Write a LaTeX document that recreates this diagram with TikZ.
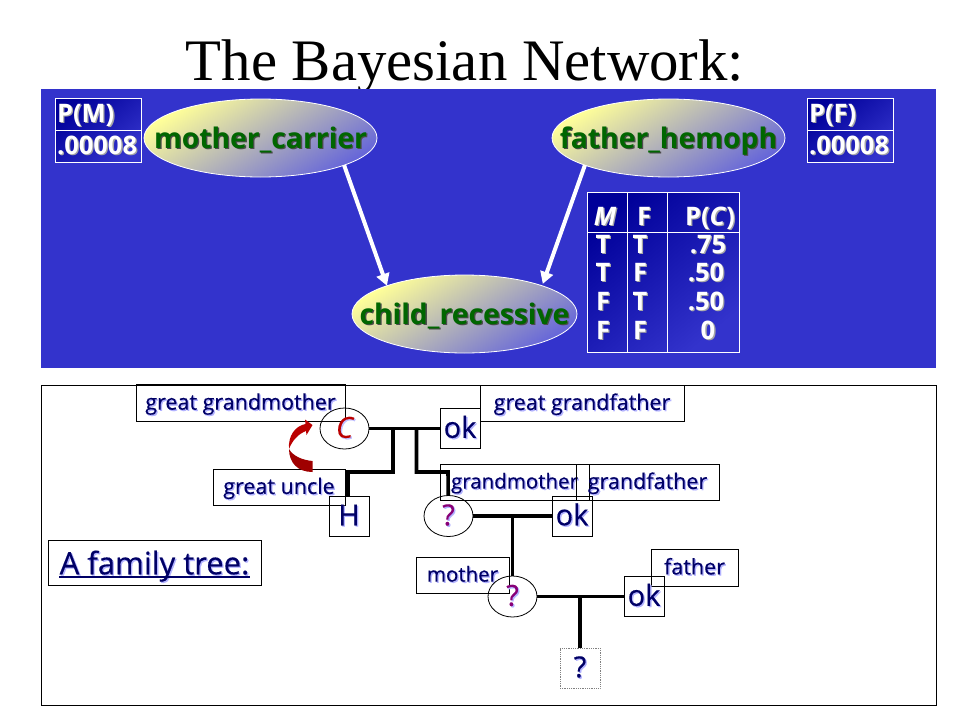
\documentclass[tikz,border=0pt]{standalone}
\usepackage{fontspec}
\setmainfont{Liberation Serif}
\newfontfamily\cs{Open Sans}
\newfontfamily\csm[FakeBold=0.35]{Open Sans}
\usetikzlibrary{shapes.geometric,arrows.meta}
\definecolor{panel}{HTML}{3333CC}
\definecolor{deep}{HTML}{000099}
\definecolor{navy}{HTML}{000066}
\definecolor{leaf}{HTML}{006600}
\definecolor{plum}{HTML}{880077}
\definecolor{crimson}{HTML}{BB0000}
\newcommand\shd[3][-0.32em]{\makebox[0pt][c]{\raisebox{#1}[0pt][0pt]{\rlap{\kern1.3pt\raisebox{-1.3pt}{\textcolor{#2}{#3}}}#3}}}
\newcommand\fs[1]{\fontsize{#1}{#1}\selectfont}
\tikzset{
 bn/.style={ellipse,inner sep=0pt,outer sep=0pt,minimum width=233,minimum height=78,draw=white,line width=0.8pt,
   top color=yellow!40!white,bottom color=panel!75!white,shading angle=32,text=leaf,font=\cs\bfseries\fs{28.3}},
 wt/.style={text=white,font=\cs\bfseries\fs{25.5},inner sep=0pt,outer sep=0pt},
 grid/.style={draw=white,line width=0.8pt},
 lab/.style={draw=black,line width=0.8pt,inner sep=0pt,outer sep=0pt,anchor=north west,text=navy,font=\csm\fs{21.5}},
 pers/.style={draw=black,line width=0.8pt,inner sep=0pt,outer sep=0pt,minimum width=40,minimum height=40,text=navy,font=\csm\fs{29}},
 fem/.style={pers,ellipse,minimum width=49,minimum height=41,text=plum},
 link/.style={draw=black,line width=3.6pt},
 dep/.style={draw=white,line width=4pt,-{Triangle[length=12pt,width=13pt]}}
}
\newcommand\wtx[1]{\shd[-0.33em]{gray!70}{#1}}
\newcommand\wtl[1]{\rlap{\raisebox{-0.33em}[0pt][0pt]{\rlap{\kern1.3pt\raisebox{-1.3pt}{\textcolor{gray!70}{#1}}}#1}}}
\newcommand\lbx[1]{\shd{blue!30}{#1}}
\newcommand\grn[1]{\shd[-0.37em]{black!70}{#1}}
\begin{document}
\begin{tikzpicture}[x=1pt,y=-1pt]
\useasboundingbox (0,0) rectangle (960,720);
\fill[white] (0,0) rectangle (960,720);
\node[font=\fs{58.8},inner sep=0pt,anchor=base] (title) at (465,80) {The Bayesian Network:};
\fill[panel] (41,89) rectangle (936,368);
% probability tables
\shade[top color=deep,bottom color=panel,shading angle=40] (55,98) rectangle (141,162);
\draw[grid] (55,98) rectangle (141,162) (55,130) -- (141,130);
\shade[top color=deep,bottom color=panel,shading angle=40] (807,98) rectangle (893,162);
\draw[grid] (807,98) rectangle (893,162) (807,130) -- (893,130);
\shade[top color=deep,bottom color=panel,shading angle=40] (587,192) rectangle (739,352);
\draw[grid] (587,192) rectangle (739,352) (587,232) -- (739,232) (627,192) -- (627,352) (667,192) -- (667,352);
\node[wt] (pm) at (57,114) {\wtl{P(M)}};
\node[wt] (pmv) at (57,146) {\wtl{.00008}};
\node[wt] (pf) at (809,114) {\wtl{P(F)}};
\node[wt] (pfv) at (809,146) {\wtl{.00008}};
\node[wt] (hm) at (605,217) {\wtx{\itshape M}};
\node[wt] (hf) at (644,217) {\wtx{F}};
\node[wt] (hc) at (710,217) {\wtx{P(\textit{C})}};
\node[wt] (a1) at (603,245) {\wtx{T}};
\node[wt] (b1) at (640,245) {\wtx{T}};
\node[wt] (c1) at (708,245) {\wtx{.75}};
\node[wt] (a2) at (603,273) {\wtx{T}};
\node[wt] (b2) at (640,273) {\wtx{F}};
\node[wt] (c2) at (706,273) {\wtx{.50}};
\node[wt] (a3) at (603,302) {\wtx{F}};
\node[wt] (b3) at (640,302) {\wtx{T}};
\node[wt] (c3) at (706,302) {\wtx{.50}};
\node[wt] (a4) at (603,331) {\wtx{F}};
\node[wt] (b4) at (640,331) {\wtx{F}};
\node[wt] (c4) at (708,331) {\wtx{0}};
% network
\node[bn] (mc) at (260.5,138) {\grn{mother\_carrier}};
\node[bn] (fh) at (668.5,138) {\grn{father\_hemoph}};
\node[bn,minimum width=225] (cr) at (464.5,314) {\grn{child\_recessive}};
\draw[dep] (mc.-18) -- (cr.160);
\draw[dep,shorten >=2pt] (fh.198) -- (cr.20);
% family tree panel
\draw[black,line width=0.8pt] (41,385) rectangle (936,705);
\node[lab,minimum width=209,minimum height=36.5] (ggm) at (136,384.5) {\lbx{great grandmother}};
\node[lab,minimum width=204,minimum height=36] (ggf) at (480,385) {\lbx{great grandfather}};
\node[lab,minimum width=132,minimum height=36] (gu) at (213,469) {\lbx{great uncle}};
\node[lab,minimum width=149,minimum height=36,font=\csm\fs{20.5}] (gm) at (440,464) {\lbx{grandmother}};
\node[lab,minimum width=143,minimum height=36] (gf) at (576,464) {\lbx{grandfather}};
\node[lab,minimum width=93,minimum height=36,font=\csm\fs{20.5}] (mo) at (416,557) {\lbx{mother}};
\node[lab,minimum width=87,minimum height=37] (fa) at (651,549) {\lbx{father}};
\node[lab,minimum width=213,minimum height=45,font=\csm\fs{31}] (ft) at (48,540) {\shd[-0.38em]{blue!30}{A family tree:}};
\draw[navy,line width=1.8pt] (59,577) -- (250,577);
\node[fem,text=crimson] (c) at (344.5,428.5) {\shd{blue!25}{\itshape C}};
\node[pers] (ok1) at (460,428.5) {\lbx{ok}};
\node[pers] (h) at (349,516) {\lbx{H}};
\node[fem] (q1) at (448.5,516) {\lbx{?}};
\node[pers] (ok2) at (572,516) {\lbx{ok}};
\node[fem] (q2) at (512.5,596.5) {\lbx{?}};
\node[pers] (ok3) at (644,596.5) {\lbx{ok}};
\node[pers,draw=gray,densely dotted] (q3) at (580,668) {\lbx{?}};
\coordinate (j1) at (393,428.5);
\coordinate (j2) at (416.5,428.5);
\coordinate (j3) at (512.5,516);
\coordinate (j4) at (580,596.5);
\coordinate (k1) at (348,472);
\coordinate (k2) at (448,472);
\draw[link] (c) -- (ok1);
\draw[link] (j1) |- (k1) -- (k1 |- h.north);
\draw[link] (j2) |- (k2) -- (q1);
\draw[link] (q1) -- (ok2);
\draw[link] (j3) -- (q2);
\draw[link] (q2) -- (ok3);
\draw[link] (j4) -- (q3);
% red curved arrow
\fill[crimson] (312.5,425) -- (305,419.5) -- (305.5,424) .. controls (295,426) and (288,436) .. (289,449)
  .. controls (292,441) and (298,434) .. (306,431) -- (306.5,435) -- cycle;
\fill[crimson!85!black] (289,449) .. controls (289,463) and (298,472) .. (312.5,472) -- (312.5,461)
  .. controls (302,460) and (293,456) .. (289,449) -- cycle;
\end{tikzpicture}
\end{document}
